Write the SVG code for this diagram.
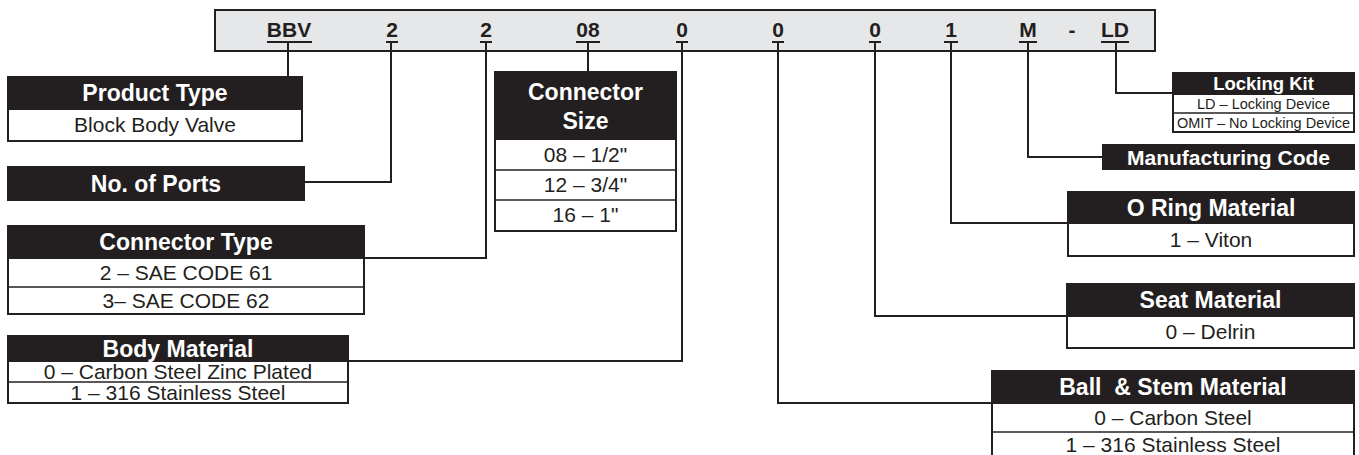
<svg xmlns="http://www.w3.org/2000/svg" width="1359" height="455" viewBox="0 0 1359 455">
<style>
.bar{fill:#e6e7e8;stroke:#231f20;stroke-width:2}
.box{fill:#ffffff;stroke:#231f20;stroke-width:2}
.hd{fill:#231f20;stroke:#231f20;stroke-width:2}
.sep{stroke:#231f20;stroke-width:1.5}
.ul{stroke:#231f20;stroke-width:2}
.cn{fill:none;stroke:#231f20;stroke-width:2}
.code{font-family:"Liberation Sans",Arial,sans-serif;font-weight:bold;font-size:21px;fill:#231f20;text-anchor:middle}
.ht{font-family:"Liberation Sans",Arial,sans-serif;font-weight:bold;font-size:23px;fill:#ffffff;text-anchor:middle}
.rt{font-family:"Liberation Sans",Arial,sans-serif;font-size:21px;fill:#231f20;text-anchor:middle}
.st{font-family:"Liberation Sans",Arial,sans-serif;font-size:14.5px;fill:#231f20;text-anchor:middle}
</style>
<g id="code-bar">
<rect class="bar" x="215" y="10" width="940" height="41"/>
<text class="code" x="289" y="37">BBV</text>
<text class="code" x="392" y="37">2</text>
<text class="code" x="486" y="37">2</text>
<text class="code" x="588" y="37">08</text>
<text class="code" x="682" y="37">0</text>
<text class="code" x="778" y="37">0</text>
<text class="code" x="875" y="37">0</text>
<text class="code" x="951" y="37">1</text>
<text class="code" x="1028" y="37">M</text>
<text class="code" x="1072" y="37">-</text>
<text class="code" x="1115" y="37">LD</text>
<line class="ul" x1="267" y1="42" x2="312" y2="42"/>
<line class="ul" x1="386" y1="42" x2="398" y2="42"/>
<line class="ul" x1="480" y1="42" x2="492" y2="42"/>
<line class="ul" x1="576" y1="42" x2="600" y2="42"/>
<line class="ul" x1="676" y1="42" x2="688" y2="42"/>
<line class="ul" x1="772" y1="42" x2="784" y2="42"/>
<line class="ul" x1="869" y1="42" x2="881" y2="42"/>
<line class="ul" x1="944" y1="42" x2="958" y2="42"/>
<line class="ul" x1="1019" y1="42" x2="1037" y2="42"/>
<line class="ul" x1="1101" y1="42" x2="1129" y2="42"/>
</g>
<g id="connectors">
<path class="cn" d="M288,42 V77"/>
<path class="cn" d="M391,42 V182 H304"/>
<path class="cn" d="M486,42 V258 H364"/>
<path class="cn" d="M588,42 V72"/>
<path class="cn" d="M682,42 V361 H348"/>
<path class="cn" d="M778,42 V403 H992"/>
<path class="cn" d="M875,42 V316 H1067"/>
<path class="cn" d="M951,42 V223 H1068"/>
<path class="cn" d="M1028,42 V157 H1103"/>
<path class="cn" d="M1116,42 V93 H1173"/>
</g>
<g id="product-type">
<rect class="box" x="8" y="77" width="294" height="64"/>
<rect class="hd" x="8" y="77" width="294" height="32"/>
<text class="ht" x="155" y="101">Product Type</text>
<text class="rt" x="155" y="132">Block Body Valve</text>
</g>
<g id="no-of-ports">
<rect class="hd" x="8" y="167" width="296" height="33"/>
<text class="ht" x="156" y="192">No. of Ports</text>
</g>
<g id="connector-type">
<rect class="box" x="8" y="226" width="356" height="88"/>
<rect class="hd" x="8" y="226" width="356" height="32"/>
<line class="sep" x1="8" y1="287" x2="364" y2="287"/>
<text class="ht" x="186" y="250">Connector Type</text>
<text class="rt" x="186" y="280">2 – SAE CODE 61</text>
<text class="rt" x="186" y="308">3– SAE CODE 62</text>
</g>
<g id="body-material">
<rect class="box" x="8" y="336" width="340" height="67"/>
<rect class="hd" x="8" y="336" width="340" height="25"/>
<line class="sep" x1="8" y1="382" x2="348" y2="382"/>
<text class="ht" x="178" y="356.5">Body Material</text>
<text class="rt" x="178" y="379">0 – Carbon Steel Zinc Plated</text>
<text class="rt" x="178" y="400">1 – 316 Stainless Steel</text>
</g>
<g id="connector-size">
<rect class="box" x="495" y="72" width="181" height="159"/>
<rect class="hd" x="495" y="72" width="181" height="67"/>
<line class="sep" x1="495" y1="170" x2="676" y2="170"/>
<line class="sep" x1="495" y1="200" x2="676" y2="200"/>
<text class="ht" x="585.5" y="100">Connector</text>
<text class="ht" x="585.5" y="129">Size</text>
<text class="rt" x="585.5" y="162">08 – 1/2&quot;</text>
<text class="rt" x="585.5" y="192">12 – 3/4&quot;</text>
<text class="rt" x="585.5" y="222">16 – 1&quot;</text>
</g>
<g id="locking-kit">
<rect class="box" x="1173" y="73" width="181" height="59"/>
<rect class="hd" x="1173" y="73" width="181" height="21"/>
<line class="sep" x1="1173" y1="113" x2="1354" y2="113"/>
<text class="ht" x="1263.5" y="90" style="font-size:18.5px">Locking Kit</text>
<text class="st" x="1263.5" y="108.5">LD – Locking Device</text>
<text class="st" x="1263.5" y="127.5">OMIT – No Locking Device</text>
</g>
<g id="manufacturing-code">
<rect class="hd" x="1103" y="145" width="251" height="24"/>
<text class="ht" x="1228.5" y="164.5" style="font-size:21px">Manufacturing Code</text>
</g>
<g id="o-ring-material">
<rect class="box" x="1068" y="192" width="286" height="64"/>
<rect class="hd" x="1068" y="192" width="286" height="31"/>
<text class="ht" x="1211" y="216">O Ring Material</text>
<text class="rt" x="1211" y="247">1 – Viton</text>
</g>
<g id="seat-material">
<rect class="box" x="1067" y="284" width="287" height="64"/>
<rect class="hd" x="1067" y="284" width="287" height="32"/>
<text class="ht" x="1210.5" y="308">Seat Material</text>
<text class="rt" x="1210.5" y="339">0 – Delrin</text>
</g>
<g id="ball-stem-material">
<rect class="box" x="992" y="371" width="362" height="90"/>
<rect class="hd" x="992" y="371" width="362" height="32"/>
<line class="sep" x1="992" y1="432" x2="1354" y2="432"/>
<text class="ht" x="1173" y="395" style="white-space:pre">Ball  &amp; Stem Material</text>
<text class="rt" x="1173" y="425">0 – Carbon Steel</text>
<text class="rt" x="1173" y="452">1 – 316 Stainless Steel</text>
</g>
</svg>
